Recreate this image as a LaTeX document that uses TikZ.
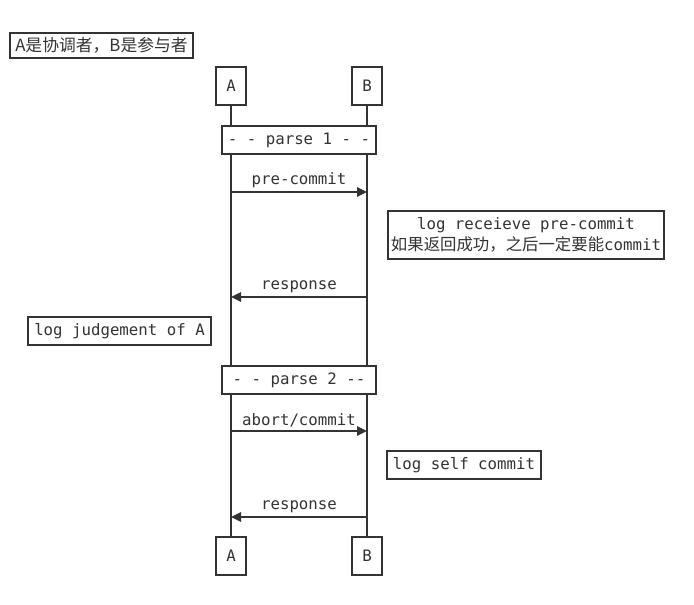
\documentclass[tikz,border=0pt]{standalone}
\usepackage{fontspec}
\setmainfont{DejaVu Sans Mono}
\newfontfamily\cjk{Noto Sans CJK SC}
\usetikzlibrary{arrows.meta}
\definecolor{ink}{HTML}{333333}
\tikzset{
  box/.style={draw=ink, line width=1.5pt, fill=white, inner sep=0pt, text=ink,
    font=\fontsize{11.8}{15.5}\selectfont, align=center},
  actor/.style={box, minimum width=22.5pt, minimum height=28.5pt},
  life/.style={draw=ink, line width=1.5pt},
  msg/.style={draw=ink, line width=1.5pt, -{Triangle[length=7.5pt,width=7pt]}},
  lbl/.style={text=ink, font=\fontsize{11.8}{14}\selectfont, inner sep=0pt}
}
\begin{document}
\begin{tikzpicture}[x=0.75pt, y=-0.75pt]
\useasboundingbox (0,0) rectangle (694,605);
% notes
\node[box, minimum width=137.25pt, minimum height=18.75pt, font=\cjk\fontsize{12.6}{14}\selectfont] (title) at (101.5,45.5) {A是协调者，B是参与者};
% actors
\node[actor] (A1) at (231,86) {A};
\node[actor] (B1) at (367,86) {B};
\node[actor] (A2) at (231,556) {A};
\node[actor] (B2) at (367,556) {B};
% lifelines
\draw[life] (A1.south) -- (A2.north);
\draw[life] (B1.south) -- (B2.north);
% phase boxes
\node[box, minimum width=115.5pt, minimum height=21pt] (p1) at (299,140) {- - parse 1 - -};
\node[box, minimum width=115.5pt, minimum height=21pt] (p2) at (299,380) {- - parse 2 -{}-};
% messages
\draw[msg] (A1.south |- 0,192) -- node[lbl, above=2.5pt] (m1) {pre-commit} (B1.south |- 0,192);
\draw[msg] (B1.south |- 0,297) -- node[lbl, above=2.5pt] (m2) {response} (A1.south |- 0,297);
\draw[msg] (A1.south |- 0,431) -- node[lbl, above=2.5pt] (m3) {abort/commit} (B1.south |- 0,431);
\draw[msg] (B1.south |- 0,517) -- node[lbl, above=2.5pt] (m4) {response} (A1.south |- 0,517);
% side notes
\node[box, minimum width=207pt, minimum height=36pt] (n1) at (526,235) {log receieve pre-commit\\{\cjk\fontsize{12.3}{13}\selectfont 如果返回成功，之后一定要能}commit};
\node[box, minimum width=137.25pt, minimum height=21pt] (n2) at (119.5,331) {log judgement of A};
\node[box, minimum width=115.5pt, minimum height=21pt] (n3) at (464,465) {log self commit};
\end{tikzpicture}
\end{document}
